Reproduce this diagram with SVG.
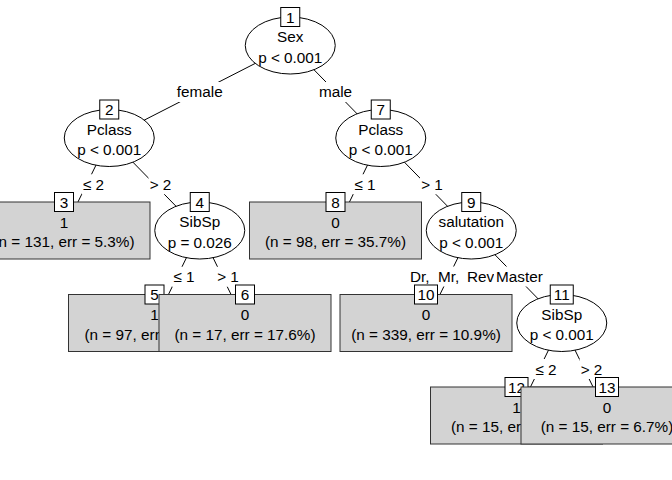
<svg xmlns="http://www.w3.org/2000/svg" width="672" height="480" viewBox="0 0 672 480">
<style>
text{font-family:"Liberation Sans",Arial,Helvetica,sans-serif;font-size:15.3px;fill:#000}
.c{text-anchor:middle}
.s{text-anchor:start}
.inner{fill:#fff;stroke:#000;stroke-width:1}
.term{fill:#d3d3d3;stroke:#333;stroke-width:1}
.id{fill:#fff;stroke:#000;stroke-width:1}
.bg{fill:#fff;stroke:none}
#edges line{stroke:#000;stroke-width:1}
</style>
<rect x="0" y="0" width="672" height="480" fill="#fff"/>
<g id="edges">
<line x1="290.25" y1="45.5" x2="109.25" y2="138"/>
<line x1="290.25" y1="45.5" x2="380.75" y2="138"/>
<line x1="109.25" y1="138" x2="64" y2="230.5"/>
<line x1="109.25" y1="138" x2="199.75" y2="230.5"/>
<line x1="199.75" y1="230.5" x2="154.5" y2="323"/>
<line x1="199.75" y1="230.5" x2="245" y2="323"/>
<line x1="380.75" y1="138" x2="335.5" y2="230.5"/>
<line x1="380.75" y1="138" x2="471.25" y2="230.5"/>
<line x1="471.25" y1="230.5" x2="426" y2="323"/>
<line x1="471.25" y1="230.5" x2="561.75" y2="323"/>
<line x1="561.75" y1="323" x2="516.5" y2="415.5"/>
<line x1="561.75" y1="323" x2="607" y2="415.5"/>
<rect class="bg" x="175.25" y="82" width="49" height="20"/>
<text class="c" x="199.75" y="97">female</text>
<rect class="bg" x="317.25" y="82" width="36.5" height="20"/>
<text class="c" x="335.5" y="97">male</text>
<rect class="bg" x="81.5" y="174.25" width="24" height="20"/>
<text class="c" x="93.5" y="189.5">≤ 2</text>
<rect class="bg" x="148.5" y="174.25" width="24" height="20"/>
<text class="c" x="160.5" y="189.5">&gt; 2</text>
<rect class="bg" x="353" y="174.25" width="24" height="20"/>
<text class="c" x="365" y="189.5">≤ 1</text>
<rect class="bg" x="420" y="174.25" width="24" height="20"/>
<text class="c" x="432" y="189.5">&gt; 1</text>
<rect class="bg" x="172" y="266.75" width="24" height="20"/>
<text class="c" x="184" y="282">≤ 1</text>
<rect class="bg" x="216" y="266.75" width="24" height="20"/>
<text class="c" x="228" y="282">&gt; 1</text>
<rect class="bg" x="408" y="266.5" width="88" height="20"/>
<text class="s" y="282"><tspan x="410">Dr,</tspan><tspan x="438">Mr,</tspan><tspan x="467">Rev</tspan></text>
<rect class="bg" x="494" y="266.5" width="50" height="20"/>
<text class="s" x="496" y="282">Master</text>
<rect class="bg" x="534" y="359" width="24" height="20"/>
<text class="c" x="546" y="374.5">≤ 2</text>
<rect class="bg" x="579.5" y="359" width="24" height="20"/>
<text class="c" x="591.5" y="374.5">&gt; 2</text>
</g>
<g id="node1">
<ellipse class="inner" cx="290.25" cy="45.5" rx="45" ry="28.5"/>
<rect class="id" x="280.75" y="7.5" width="19" height="19"/>
<text class="c" x="290.25" y="22.5">1</text>
<text class="c" x="290.25" y="42">Sex</text>
<text class="c" x="290.25" y="62.5">p &lt; 0.001</text>
</g>
<g id="node2">
<ellipse class="inner" cx="109.25" cy="138" rx="45" ry="28.5"/>
<rect class="id" x="99.75" y="100" width="19" height="19"/>
<text class="c" x="109.25" y="115">2</text>
<text class="c" x="109.25" y="134.5">Pclass</text>
<text class="c" x="109.25" y="155">p &lt; 0.001</text>
</g>
<g id="node3">
<rect class="term" x="-22" y="202" width="172" height="57"/>
<rect class="id" x="54.5" y="192.5" width="19" height="19"/>
<text class="c" x="64" y="207.5">3</text>
<text class="c" x="64" y="227.5">1</text>
<text class="c" x="64" y="247">(n = 131, err = 5.3%)</text>
</g>
<g id="node4">
<ellipse class="inner" cx="199.75" cy="230.5" rx="45" ry="28.5"/>
<rect class="id" x="190.25" y="192.5" width="19" height="19"/>
<text class="c" x="199.75" y="207.5">4</text>
<text class="c" x="199.75" y="227">SibSp</text>
<text class="c" x="199.75" y="247.5">p = 0.026</text>
</g>
<g id="node5">
<rect class="term" x="68.5" y="294.5" width="172" height="57"/>
<rect class="id" x="145" y="285" width="19" height="19"/>
<text class="c" x="154.5" y="300">5</text>
<text class="c" x="154.5" y="320">1</text>
<text class="s" x="84.5" y="339.5">(n = 97, err</text>
</g>
<g id="node6">
<rect class="term" x="159" y="294.5" width="172" height="57"/>
<rect class="id" x="235.5" y="285" width="19" height="19"/>
<text class="c" x="245" y="300">6</text>
<text class="c" x="245" y="320">0</text>
<text class="c" x="245" y="339.5">(n = 17, err = 17.6%)</text>
</g>
<g id="node7">
<ellipse class="inner" cx="380.75" cy="138" rx="45" ry="28.5"/>
<rect class="id" x="371.25" y="100" width="19" height="19"/>
<text class="c" x="380.75" y="115">7</text>
<text class="c" x="380.75" y="134.5">Pclass</text>
<text class="c" x="380.75" y="155">p &lt; 0.001</text>
</g>
<g id="node8">
<rect class="term" x="249.5" y="202" width="172" height="57"/>
<rect class="id" x="326" y="192.5" width="19" height="19"/>
<text class="c" x="335.5" y="207.5">8</text>
<text class="c" x="335.5" y="227.5">0</text>
<text class="c" x="335.5" y="247">(n = 98, err = 35.7%)</text>
</g>
<g id="node9">
<ellipse class="inner" cx="471.25" cy="230.5" rx="45" ry="28.5"/>
<rect class="id" x="461.75" y="192.5" width="19" height="19"/>
<text class="c" x="471.25" y="207.5">9</text>
<text class="c" x="471.25" y="227">salutation</text>
<text class="c" x="471.25" y="247.5">p &lt; 0.001</text>
</g>
<g id="node10">
<rect class="term" x="340" y="294.5" width="172" height="57"/>
<rect class="id" x="414.5" y="285" width="23" height="19"/>
<text class="c" x="426" y="300">10</text>
<text class="c" x="426" y="320">0</text>
<text class="c" x="426" y="339.5">(n = 339, err = 10.9%)</text>
</g>
<g id="node11">
<ellipse class="inner" cx="561.75" cy="323" rx="45" ry="28.5"/>
<rect class="id" x="550.25" y="285" width="23" height="19"/>
<text class="c" x="561.75" y="300">11</text>
<text class="c" x="561.75" y="319.5">SibSp</text>
<text class="c" x="561.75" y="340">p &lt; 0.001</text>
</g>
<g id="node12">
<rect class="term" x="430.5" y="387" width="172" height="57"/>
<rect class="id" x="505" y="377.5" width="23" height="19"/>
<text class="c" x="516.5" y="392.5">12</text>
<text class="c" x="516.5" y="412.5">1</text>
<text class="s" x="451" y="432">(n = 15, er</text>
</g>
<g id="node13">
<rect class="term" x="521" y="387" width="172" height="57"/>
<rect class="id" x="595.5" y="377.5" width="23" height="19"/>
<text class="c" x="607" y="392.5">13</text>
<text class="c" x="607" y="412.5">0</text>
<text class="c" x="607" y="432">(n = 15, err = 6.7%)</text>
</g>
</svg>
